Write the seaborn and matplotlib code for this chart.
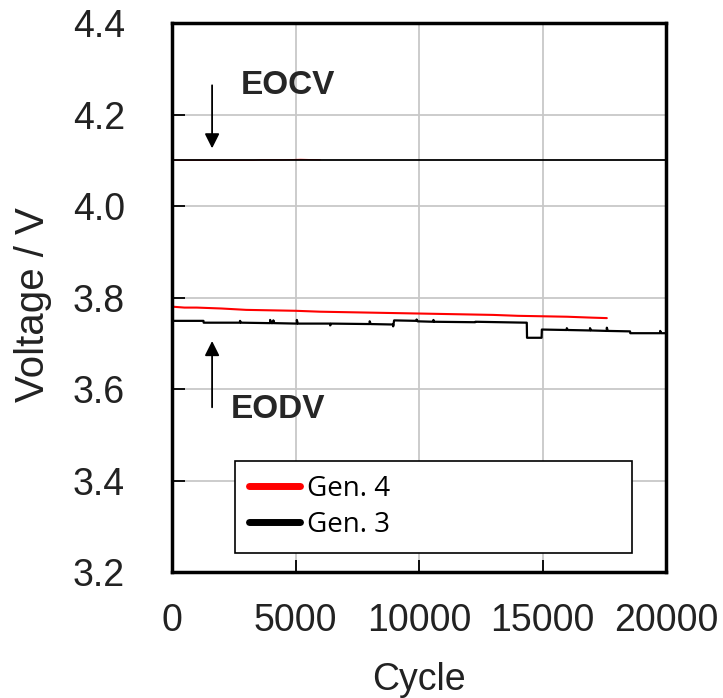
import pandas as pd
import matplotlib
matplotlib.use('Agg')
import matplotlib.pyplot as plt
import seaborn as sns
from matplotlib.lines import Line2D

# Gen. 3 end-of-discharge voltage (black)
gen3_eodv_cycle = [0, 60, 1270, 1280, 2750, 2750, 2790, 3970, 3970, 4010, 4100, 4100, 4140,
                   5050, 5050, 5090, 6400, 6400, 6440, 8000, 8000, 8040, 8950, 8950, 8990,
                   9900, 9900, 9940, 10580, 10580, 10620, 12270, 12280, 14360, 14370, 14960,
                   14970, 15980, 15980, 16020, 16920, 16920, 16960, 17600, 17600, 17640,
                   18540, 18550, 19760, 19760, 19800, 20000]
gen3_eodv_volt = [3.753, 3.749, 3.749, 3.745, 3.745, 3.749, 3.745, 3.744, 3.751, 3.744, 3.744,
                  3.750, 3.744, 3.743, 3.751, 3.743, 3.743, 3.739, 3.743, 3.742, 3.748, 3.742,
                  3.741, 3.737, 3.750, 3.749, 3.752, 3.748, 3.747, 3.751, 3.747, 3.746, 3.747,
                  3.745, 3.712, 3.712, 3.730, 3.729, 3.733, 3.729, 3.728, 3.733, 3.728, 3.727,
                  3.734, 3.727, 3.726, 3.722, 3.722, 3.727, 3.722, 3.722]

# Gen. 4 end-of-discharge voltage (red)
gen4_eodv_cycle = [0, 500, 1000, 2000, 3000, 4000, 5000, 6000, 7000, 8000, 9000, 10000,
                   11000, 12000, 13000, 14000, 15000, 16000, 17000, 17600]
gen4_eodv_volt = [3.780, 3.778, 3.778, 3.776, 3.773, 3.772, 3.771, 3.769, 3.768, 3.767, 3.766,
                  3.765, 3.764, 3.763, 3.762, 3.760, 3.759, 3.758, 3.756, 3.755]

# end-of-charge voltage
gen3_eocv_cycle = [0, 3500, 3500, 6000, 6000, 20000]
gen3_eocv_volt = [4.100, 4.100, 4.1015, 4.1015, 4.100, 4.100]
gen4_eocv_cycle = [0, 1500, 2000, 2800, 3300, 3600, 4500, 5200, 6000]
gen4_eocv_volt = [4.100, 4.100, 4.100, 4.100, 4.100, 4.101, 4.101, 4.102, 4.101]

labels = ['Gen. 4', 'Gen. 3']
colors = {'Gen. 4': '#ff0000', 'Gen. 3': '#000000'}

sns.set_theme(style='whitegrid')
plt.rcParams['font.family'] = ['Liberation Sans', 'DejaVu Sans']

fig = plt.figure(figsize=(7.23, 6.98), dpi=100)
ax = fig.add_axes([0.238, 0.1805, 0.6833, 0.7865])

sns.lineplot(x=gen4_eocv_cycle, y=gen4_eocv_volt, color=colors['Gen. 4'], lw=0.8,
             sort=False, estimator=None, ax=ax)
sns.lineplot(x=gen3_eocv_cycle, y=gen3_eocv_volt, color=colors['Gen. 3'], lw=1.3,
             sort=False, estimator=None, ax=ax)
sns.lineplot(x=gen4_eodv_cycle, y=gen4_eodv_volt, color=colors['Gen. 4'], lw=1.5,
             sort=False, estimator=None, ax=ax)
sns.lineplot(x=gen3_eodv_cycle, y=gen3_eodv_volt, color=colors['Gen. 3'], lw=1.6,
             sort=False, estimator=None, ax=ax)

ax.set_xlim(0, 20000)
ax.set_ylim(3.2, 4.4)
ax.set_xticks([0, 5000, 10000, 15000, 20000])
ax.set_yticks([3.2, 3.4, 3.6, 3.8, 4.0, 4.2, 4.4])
ax.set_yticklabels(['3.2', '3.4', '3.6', '3.8', '4.0', '4.2', '4.4'])

ax.grid(True, color='#c8c8c8', lw=1.3)
for s in ax.spines.values():
    s.set_color('black')
    s.set_linewidth(2.5)
ax.tick_params(axis='both', direction='in', length=9, width=1.3, color='black',
               labelsize=27, labelcolor='#222222', left=True, bottom=True)
ax.tick_params(axis='x', pad=22)
ax.tick_params(axis='y', pad=34)

ax.set_xlabel('Cycle', fontsize=27, color='#222222', va='center')
ax.set_ylabel('Voltage / V', fontsize=29, color='#222222', va='center')
ax.xaxis.set_label_coords(0.5, -0.197)
ax.yaxis.set_label_coords(-0.281, 0.488)

ax.annotate('', xy=(1620, 4.120), xytext=(1620, 4.270),
            arrowprops=dict(arrowstyle='-|>', color='black', lw=1.3, mutation_scale=22))
ax.text(4700, 4.264, 'EOCV', fontsize=24, fontweight='bold', ha='center', va='center')
ax.annotate('', xy=(1620, 3.711), xytext=(1620, 3.554),
            arrowprops=dict(arrowstyle='-|>', color='black', lw=1.3, mutation_scale=22))
ax.text(4291, 3.555, 'EODV', fontsize=24, fontweight='bold', ha='center', va='center')

handles = [Line2D([], [], color=colors[l], lw=5) for l in labels]
leg = ax.legend(handles, labels, loc='lower left', mode='expand',
                bbox_to_anchor=(0.1275, 0.0346, 0.8035, 0.165),
                prop={'family': 'Open Sans', 'size': 20}, labelcolor='black',
                frameon=True, fancybox=False, framealpha=1, edgecolor='black',
                borderpad=0.5, labelspacing=0.3, handlelength=1.85, handletextpad=0.25,
                borderaxespad=0)
leg.get_frame().set_linewidth(1.2)

fig.savefig('out.png', dpi=100)
